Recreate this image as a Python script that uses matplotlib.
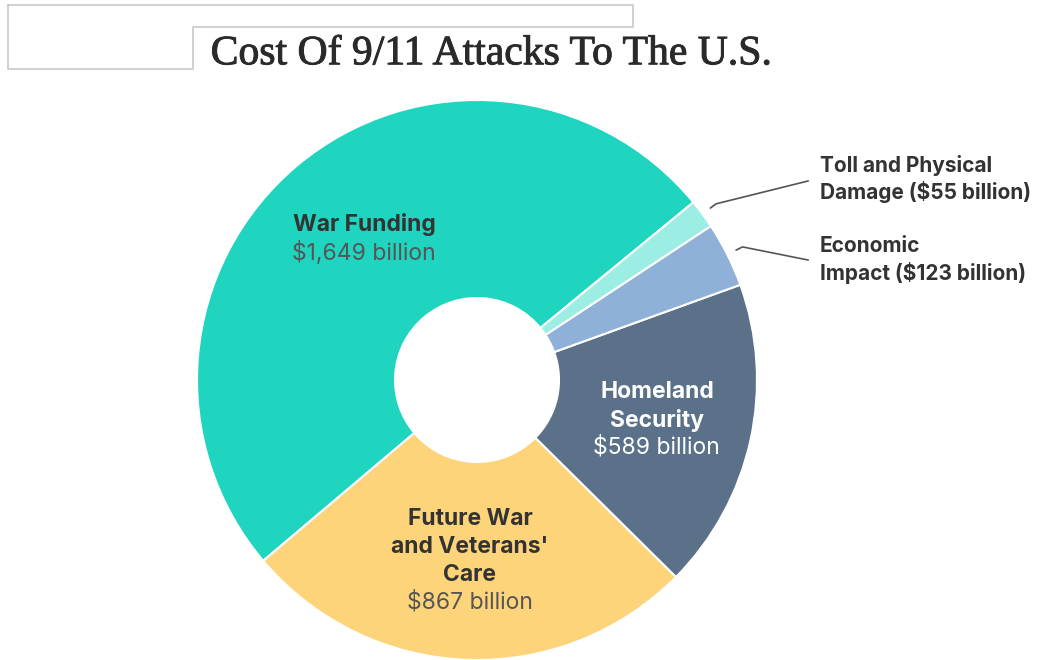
import matplotlib
matplotlib.use('Agg')
import matplotlib.pyplot as plt
import matplotlib.patheffects as pe
import numpy as np

labels = ["War Funding", "Future War and Veterans' Care", "Homeland Security",
          "Economic Impact", "Toll and Physical Damage"]
values = [1649, 867, 589, 123, 55]
colors = ["#1fd5bf", "#fed47a", "#5b7189", "#8fb1d8", "#9ceee4"]

W, H = 1059, 660
fig = plt.figure(figsize=(W / 100, H / 100), dpi=100)
ax = fig.add_axes([0, 0, 1, 1])

cx, cy, r = 477, H - 380, 280
start = 39.4
wedges, _ = ax.pie(values, colors=colors, startangle=start, counterclock=True,
                   center=(cx, cy), radius=r,
                   wedgeprops=dict(width=r - 82, edgecolor='white', linewidth=1.5))
ax.set_xlim(0, W)
ax.set_ylim(0, H)
ax.set_aspect('equal')
ax.axis('off')

# empty frame at top left
frame = [(8, 5), (633, 5), (633, 27), (193, 27), (193, 69), (8, 69), (8, 5)]
ax.plot([p[0] for p in frame], [H - p[1] for p in frame], color='#c8c8c8', lw=1.2)

ax.text(491, H - 54, "Cost Of 9/11 Attacks To The U.S.", ha='center', va='center',
        fontsize=30, family='Liberation Serif', color='#2a2a2a',
        path_effects=[pe.withStroke(linewidth=0.7, foreground='#2a2a2a')])

dark, grey = '#333333', '#555555'

def line(x, y, s, color, bold=False, size=16.5):
    ax.text(x, H - y, s, family='Inter', fontsize=size, ha='center', va='center',
            color=color, fontweight='bold' if bold else 'normal')

line(364, 225, "War Funding", dark, True)
line(364, 253, "$%s billion" % format(values[0], ','), grey)

line(470, 519, "Future War", dark, True)
line(470, 547, "and Veterans'", dark, True)
line(470, 575, "Care", dark, True)
line(470, 602, "$%d billion" % values[1], grey)

line(657, 392, "Homeland", 'white', True)
line(657, 420, "Security", 'white', True)
line(656, 447, "$%d billion" % values[2], 'white')

# outside labels with leader lines from the wedge middles
side = [(4, ["Toll and Physical", "Damage ($55 billion)"], 165, 181),
        (3, ["Economic", "Impact ($123 billion)"], 246, 260)]
for i, txt, ty, ly in side:
    w = wedges[i]
    mid = np.deg2rad((w.theta1 + w.theta2) / 2)
    x0, y0 = cx + 290 * np.cos(mid), cy + 290 * np.sin(mid)
    x1, y1 = cx + 297 * np.cos(mid), cy + 297 * np.sin(mid)
    ax.plot([x0, x1, 808], [y0, y1, H - ly], color='#555555', lw=1.2)
    for k, s in enumerate(txt):
        ax.text(820, H - ty - 27 * k, s, family='Inter', fontsize=15, fontweight='bold',
                color=dark, ha='left', va='center')

fig.savefig('out.png', dpi=100)
